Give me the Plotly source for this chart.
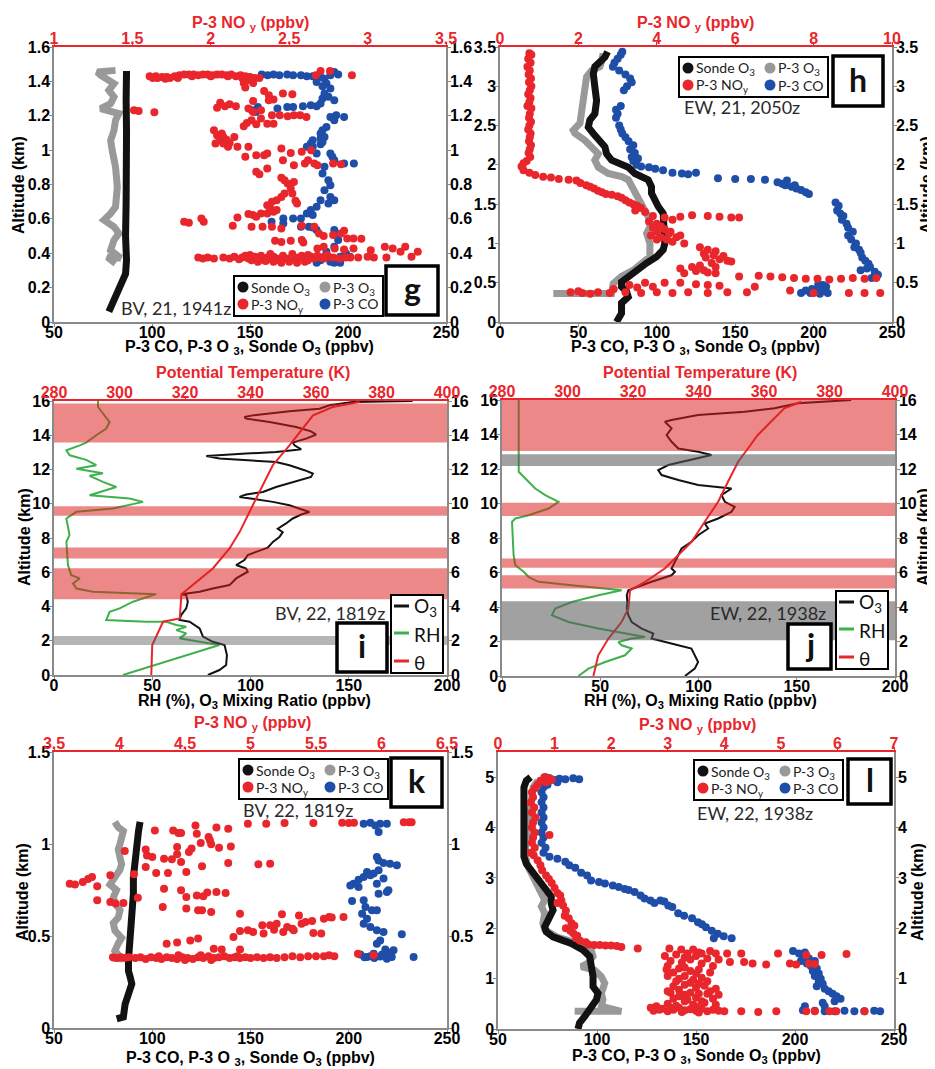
import plotly.graph_objects as go

# ======================= DATA (value, altitude km) =======================
# ---- panel g : BV, 21, 1941z ----
G_SONDE_O3 = [(78.0,0.06),(80.6,0.13),(84.0,0.20),(86.5,0.28),(87.0,0.36),(86.5,0.50),(86.8,0.70),
              (86.5,0.90),(87.0,1.10),(86.8,1.30),(87.0,1.46)]
G_P3_O3 = [(81.4,0.341),(77.2,0.378),(84.0,0.372),(78.9,0.418),(80.6,0.477),(83.1,0.515),(80.6,0.554),
           (75.5,0.593),(78.9,0.632),(81.4,0.670),(82.3,0.786),(81.4,0.902),(79.7,0.999),(78.9,1.056),
           (80.6,1.114),(81.4,1.174),(83.1,1.213),(73.8,1.242),(78.9,1.271),(80.6,1.310),(78.0,1.348),
           (80.6,1.387),(73.8,1.436),(72.1,1.455),(81.4,1.464)]
G_P3_NOY = [(1.61,1.43),(1.63,1.42),(1.66,1.42),(1.69,1.425),(1.71,1.415),(1.74,1.42),(1.77,1.43),(1.80,1.435),
            (1.83,1.44),(1.86,1.44),(1.89,1.44),(1.92,1.435),(1.95,1.44),(1.98,1.44),(2.01,1.435),(2.04,1.44),
            (2.07,1.44),(2.10,1.435),(2.13,1.44),(2.16,1.43),(2.19,1.435),(2.22,1.43),(2.25,1.425),(2.28,1.42),
            (2.31,1.42),(1.65,1.43),(1.72,1.425),(1.79,1.42),(1.88,1.43),(2.00,1.43),(2.11,1.43),(2.20,1.42),
            (2.70,1.46),(2.76,1.46),(2.90,1.435),(2.67,1.435),(2.23,1.405),(2.21,1.39),(2.27,1.39),
            (1.51,1.232),(1.54,1.228),(1.64,1.22),
            (2.06,1.275),(2.09,1.255),(2.12,1.267),(2.16,1.255),(2.04,1.247),
            (2.22,1.364),(2.27,1.286),(2.34,1.344),(2.37,1.319),(2.40,1.294),(2.37,1.29),(2.46,1.329),(2.52,1.325),
            (2.53,1.203),(2.49,1.197),(2.44,1.203),(2.57,1.203),(2.61,1.193),(2.39,1.203),(2.32,1.232),(2.24,1.242),
            (2.27,1.222),(2.21,1.139),(2.23,1.158),(2.26,1.174),(2.32,1.184),(2.36,1.154),(2.40,1.154),(2.29,1.15),
            (2.02,1.116),(2.04,1.087),(2.07,1.096),(2.08,1.077),(2.10,1.061),(2.15,1.077),(2.06,1.058),(2.03,1.038),
            (2.08,1.038),(2.12,1.042),(2.11,1.019),(2.17,1.019),(2.24,1.019),
            (2.22,0.961),(2.29,0.97),(2.34,0.97),(2.36,0.98),(2.45,1.009),(2.51,0.984),(2.58,0.99),(2.64,1.0),
            (2.62,0.941),(2.60,0.922),(2.66,0.922),(2.68,0.912),(2.78,0.922),(2.83,0.918),(2.53,0.912),(2.46,0.941),
            (2.29,0.874),(2.31,0.86),(2.36,0.893),
            (2.45,0.839),(2.47,0.825),(2.49,0.806),(2.51,0.777),(2.53,0.815),(2.52,0.748),(2.47,0.748),(2.45,0.728),
            (2.42,0.709),(2.39,0.699),(2.36,0.68),(2.38,0.66),(2.40,0.641),(2.42,0.651),(2.54,0.705),(2.55,0.69),
            (2.36,0.631),(2.32,0.631),(2.27,0.622),(2.24,0.628),(2.29,0.612),
            (1.83,0.583),(1.86,0.577),(1.94,0.602),(1.955,0.583),(2.17,0.608),(2.14,0.56),(2.26,0.554),(2.33,0.554),
            (2.39,0.554),(2.45,0.544),(2.58,0.56),(2.66,0.554),(2.69,0.515),(2.72,0.50),(2.78,0.506),(2.83,0.515),
            (2.85,0.531),(2.87,0.486),(2.91,0.486),(2.96,0.484),
            (2.41,0.473),(2.45,0.465),(2.51,0.473),(2.58,0.477),(2.59,0.463),
            (2.68,0.428),(2.72,0.438),(2.79,0.428),(2.85,0.422),(2.91,0.428),(3.02,0.418),(3.11,0.438),(3.16,0.428),
            (3.24,0.438),(3.21,0.409),(3.32,0.409),(3.28,0.38),(3.12,0.376),(3.00,0.38),(3.04,0.376),(2.94,0.376),
            (2.89,0.376),
            (1.92,0.375),(1.95,0.37),(1.98,0.375),(2.02,0.37),(2.08,0.375),(2.12,0.37),(2.15,0.38),(2.18,0.365),
            (2.20,0.375),(2.22,0.385),(2.24,0.37),(2.26,0.36),(2.28,0.38),(2.30,0.37),(2.32,0.385),(2.34,0.36),
            (2.36,0.375),(2.38,0.365),(2.40,0.38),(2.42,0.37),(2.44,0.36),(2.46,0.385),(2.48,0.37),(2.50,0.36),
            (2.52,0.38),(2.54,0.365),(2.56,0.375),(2.58,0.385),(2.60,0.37),(2.62,0.36),(2.64,0.38),(2.66,0.37),
            (2.68,0.385),(2.70,0.375),(2.72,0.37),(2.75,0.38),(2.78,0.375),(2.82,0.37),(2.86,0.375),(2.30,0.35),
            (2.40,0.35),(2.50,0.35),(2.55,0.345),(2.45,0.345),(2.35,0.355),(2.60,0.35),(2.25,0.39),(2.38,0.395),
            (2.52,0.395),(2.62,0.39),(2.74,0.39)]
G_P3_CO = [(156,1.44),(159,1.435),(162,1.44),(165,1.435),(169,1.44),(172,1.435),(176,1.435),(179,1.43),(182,1.43),
           (186,1.426),(188,1.416),(191,1.435),(193,1.455),(195,1.44),(184,1.397),(187,1.372),(189,1.387),
           (191,1.358),(188,1.329),(190,1.31),(193,1.29),(187,1.30),(186,1.271),(184,1.255),(181,1.261),
           (177,1.255),(172,1.251),(169,1.251),(164,1.242),(154,1.251),(153,1.222),(151,1.232),(194,1.203),
           (198,1.193),(191,1.193),(193,1.174),(189,1.135),(187,1.116),(186,1.096),(188,1.077),(186,1.067),
           (182,1.058),(181,1.038),(179,1.019),(182,1.019),(186,1.034),(187,1.048),(184,0.98),(191,0.98),
           (193,0.941),(198,0.922),(203,0.922),(192,0.961),(188,0.903),(187,0.864),(190,0.825),(191,0.796),
           (188,0.767),(191,0.728),(193,0.709),(190,0.69),(186,0.709),(184,0.67),(181,0.651),(179,0.631),
           (182,0.622),(176,0.602),(172,0.602),(167,0.602),(161,0.583),(167,0.573),(176,0.554),(180,0.554),
           (182,0.55),(184,0.535),(193,0.535),(194,0.515),(195,0.477),(193,0.438),(189,0.409),(188,0.38),
           (186,0.36),(184,0.345),(191,0.35),(196,0.38),(199,0.399),(201,0.38),(196,0.345),(193,0.345)]

# ---- panel h : EW, 21, 2050z ----
H_SONDE_O3 = [(74.3,0.0),(77.5,0.11),(77.5,0.24),(81.8,0.32),(80.7,0.39),(77.5,0.45),(77.5,0.51),(81.8,0.58),
              (88.1,0.66),(93.5,0.75),(99.8,0.83),(104.1,0.92),(105.1,1.0),(105.1,1.13),(105.1,1.25),(104.1,1.38),
              (100.9,1.47),(98.8,1.55),(96.6,1.64),(96.6,1.72),(94.5,1.81),(86.0,1.89),(81.8,1.97),(71.2,2.06),
              (68.0,2.14),(66.9,2.23),(62.7,2.31),(59.5,2.40),(56.3,2.48),(57.3,2.57),(60.5,2.65),(61.6,2.82),
              (60.5,2.99),(59.5,3.16),(60.5,3.25),(63.7,3.31),(66.9,3.37),(68.6,3.44)]
H_P3_O3 = [(34.0,0.364),(41.4,0.364),(52.0,0.364),(62.7,0.364),(71.2,0.364),(72.2,0.49),(77.5,0.58),(85.0,0.66),
           (91.3,0.75),(95.6,0.83),(95.6,0.92),(95.6,1.0),(93.5,1.13),(95.6,1.21),(95.6,1.30),(93.5,1.38),
           (91.3,1.47),(89.2,1.55),(86.0,1.64),(83.9,1.72),(81.8,1.81),(77.5,1.85),(69.0,1.89),(62.7,1.97),
           (60.5,2.06),(62.7,2.14),(58.4,2.23),(54.2,2.31),(47.8,2.40),(46.7,2.44),(51.0,2.53),(52.0,2.65),
           (53.1,2.82),(54.2,2.99),(55.2,3.12),(58.4,3.20),(63.7,3.25),(64.8,3.31),(65.8,3.42)]
H_P3_NOY = [(0.75,3.42),(0.80,3.40),(0.72,3.35),(0.78,3.30),(0.70,3.25),(0.76,3.20),(0.73,3.15),(0.79,3.10),
            (0.74,3.05),(0.80,3.00),(0.76,2.95),(0.72,2.90),(0.78,2.85),(0.75,2.80),(0.70,2.75),(0.80,2.72),
            (0.76,2.65),(0.74,2.60),(0.79,2.55),(0.75,2.50),(0.72,2.45),(0.78,2.40),(0.76,2.35),(0.74,2.30),
            (0.79,2.25),(0.76,2.20),(0.73,2.15),(0.77,2.10),(0.68,2.05),(0.60,2.02),(0.55,1.98),(0.60,1.93),
            (0.75,1.90),(0.90,1.87),(1.10,1.85),(1.30,1.84),(1.50,1.82),(1.75,1.81),(1.95,1.80),(2.05,1.77),
            (2.20,1.74),(2.30,1.72),(2.40,1.70),(2.50,1.67),(2.60,1.65),(2.70,1.63),(2.85,1.62),(3.00,1.60),
            (3.10,1.58),(3.20,1.55),(3.30,1.52),(3.40,1.50),(3.50,1.48),(3.60,1.45),(3.45,1.42),(3.70,1.40),
            (3.90,1.35),(4.20,1.33),(4.60,1.34),(4.90,1.36),(5.30,1.35),(5.60,1.34),(5.90,1.33),(6.10,1.33),
            (4.40,1.30),(4.00,1.25),(3.90,1.20),(4.20,1.18),(4.00,1.15),(4.30,1.12),(4.10,1.08),(4.50,1.08),
            (4.00,1.05),(4.40,1.02),(4.70,1.00),(5.10,0.95),(5.30,0.92),(5.50,0.90),(5.20,0.87),(5.45,0.85),
            (5.60,0.80),(5.80,0.78),(5.90,0.77),(5.40,0.75),(5.10,0.72),(4.60,0.68),(4.90,0.70),(5.00,0.65),
            (5.30,0.63),(5.50,0.62),(4.70,0.62),(6.10,0.58),(6.60,0.59),(6.90,0.58),(7.20,0.57),(7.50,0.56),
            (7.80,0.55),(8.10,0.55),(8.40,0.54),(8.70,0.55),(9.00,0.56),(9.30,0.55),(9.60,0.56),(3.70,0.50),
            (4.20,0.50),(4.60,0.50),(5.00,0.48),(5.30,0.47),(5.60,0.46),(3.90,0.45),(3.50,0.44),(3.30,0.47),
            (2.90,0.42),(6.50,0.45),(1.80,0.38),(2.10,0.37),(2.50,0.38),(2.80,0.37),(3.20,0.38),(3.60,0.37),
            (4.00,0.38),(4.40,0.37),(4.80,0.38),(5.30,0.37),(5.80,0.38),(6.30,0.38),(7.40,0.40),(8.90,0.37),
            (9.30,0.37),(9.70,0.37),(8.00,0.37),(2.00,0.39),(2.30,0.36),
            (3.80,1.28),(4.10,1.22),(4.35,1.15),(3.85,1.10),(4.25,1.05),(4.60,1.10),(5.25,0.82),(5.50,0.70),
            (5.20,0.66),(5.70,0.84)]
H_P3_CO = [(78,3.44),(77,3.40),(75,3.35),(73,3.30),(72,3.25),(76,3.20),(80,3.15),(83,3.10),(84,3.05),(81,3.00),
           (79,2.95),(77,2.75),(74,2.70),(75,2.65),(74,2.60),(76,2.50),(77,2.45),(78,2.40),(80,2.35),(82,2.30),
           (85,2.25),(83,2.20),(86,2.15),(84,2.10),(88,2.08),(85,2.05),(87,2.00),(90,1.98),(95,1.97),(99,1.95),
           (104,1.93),(110,1.90),(116,1.89),(120,1.88),(125,1.90),(139,1.83),(150,1.82),(160,1.82),(169,1.81),
           (177,1.78),(180,1.76),(183,1.80),(186,1.72),(189,1.70),(192,1.68),(195,1.65),(197,1.63),(182,1.74),
           (188,1.74),(214,1.52),(216,1.48),(215,1.42),(217,1.38),(219,1.35),(218,1.30),(221,1.25),(222,1.20),
           (225,1.15),(222,1.10),(224,1.05),(227,1.00),(226,0.95),(229,0.92),(230,0.88),(231,0.82),(233,0.78),
           (235,0.74),(236,0.70),(234,0.68),(239,0.64),(241,0.60),(240,0.58),(237,0.56),(230,0.66),(203,0.48),
           (206,0.47),(208,0.45),(199,0.42),(195,0.40),(201,0.40),(205,0.39),(209,0.37),(192,0.37),(198,0.37),
           (204,0.36)]

# ---- panel i : BV, 22, 1819z  (O3 / RH on bottom axis, theta on top axis) ----
I_O3 = [(78.3,0.0),(84.2,0.29),(87.6,0.58),(88.0,1.17),(86.8,1.75),(80.8,1.94),(75.8,2.24),(74.1,2.72),(69.0,3.11),
        (63.9,3.21),(64.7,3.50),(67.3,3.89),(68.1,4.28),(67.3,4.67),(64.7,4.72),(74.1,4.86),(80.8,5.05),(89.3,5.25),
        (92.7,5.64),(98.6,6.03),(97.8,6.22),(92.7,6.42),(96.9,6.71),(98.6,7.0),(102.9,7.19),(108.8,7.43),
        (111.4,7.77),(114.7,8.05),(116.4,8.34),(113.9,8.54),(118.1,8.85),(121.5,9.14),(125.8,9.37),(130.0,9.52),
        (125.8,9.68),(119.8,9.91),(111.4,10.11),(101.2,10.26),(94.4,10.40),(97.8,10.54),(106.3,10.69),
        (113.0,10.98),(121.5,11.28),(130.8,11.57),(131.7,11.76),(127.5,11.96),(119.8,12.25),(113.0,12.44),
        (84.2,12.64),(77.5,12.79),(97.8,12.93),(113.0,13.02),(121.5,13.12),(125.8,13.18),(122.4,13.41),
        (121.5,13.57),(128.3,13.80),(133.4,14.04),(130.8,14.23),(123.2,14.48),(109.7,14.77),(97.8,14.97),
        (96.9,15.07),(101.2,15.16),(119.8,15.40),(135.1,15.55),(140.2,15.75),(152.0,15.94),(182.5,16.0)]
I_RH = [(35.1,0.0),(84.2,1.75),(74.1,1.94),(63.9,2.14),(67.3,2.43),(62.2,2.62),(67.3,2.82),(62.2,2.92),(57.1,3.11),
        (46.9,3.11),(26.6,3.21),(28.3,3.69),(33.4,3.89),(40.2,4.28),(52.0,4.72),(19.8,4.86),(11.4,5.05),(9.7,5.35),
        (13.1,5.64),(8.8,5.83),(7.1,6.42),(6.3,7.78),(7.9,8.17),(6.3,9.14),(11.4,9.53),(21.5,9.62),(30.0,9.72),
        (45.3,10.11),(38.5,10.30),(18.1,10.50),(31.7,10.98),(24.9,11.28),(18.1,11.63),(24.9,11.78),(11.4,12.05),
        (21.5,12.25),(16.4,12.56),(8.0,12.83),(6.3,13.12),(13.1,13.41),(16.4,13.57),(21.5,14.0),(26.6,14.39),
        (28.3,14.77),(24.9,15.26),(22.4,15.65),(22.4,16.0)]
I_THETA = [(309.7,0.0),(310.0,1.75),(313.3,3.11),(318.4,3.30),(318.9,4.72),(322.4,5.25),(328.5,6.22),(333.6,7.39),
           (336.7,8.36),(340.7,9.91),(343.8,11.08),(346.8,12.25),(351.9,13.41),(355.0,14.19),(359.1,15.16),
           (365.1,15.65),(373.3,15.94)]
I_RED_BANDS = [(13.57, 15.85), (9.30, 9.86), (6.81, 7.45), (4.42, 6.23)]
I_GREY_BANDS = [(1.75, 2.28)]

# ---- panel j : EW, 22, 1938z ----
J_O3 = [(93.1,0.0),(98.1,0.43),(99.8,0.81),(98.1,1.20),(96.4,1.59),(89.7,1.78),(82.9,1.97),(76.1,2.17),(77.0,2.46),
        (71.1,2.75),(66.0,3.13),(64.3,3.52),(63.5,3.91),(63.8,4.29),(63.5,4.68),(64.3,4.97),(76.1,5.46),(86.3,5.84),
        (88.0,6.04),(86.3,6.23),(88.0,6.62),(89.7,7.0),(91.4,7.39),(96.4,7.78),(99.8,8.16),(104.9,8.55),
        (103.2,8.84),(110.0,9.13),(116.8,9.52),(118.4,9.81),(113.4,10.10),(111.7,10.49),(116.8,10.87),
        (99.8,11.07),(89.7,11.36),(81.2,11.65),(79.5,11.94),(84.6,12.23),(98.1,12.61),(106.6,12.81),(99.8,13.0),
        (89.7,13.19),(86.3,13.58),(83.8,13.97),(86.3,14.36),(82.9,14.74),(86.3,14.84),(99.8,15.13),(123.5,15.32),
        (138.7,15.52),(150.6,15.81),(177.7,16.0)]
J_RH = [(38.9,0.0),(44.0,0.43),(52.5,0.81),(62.6,1.20),(66.0,1.59),(60.9,1.78),(59.2,1.97),(66.0,2.17),(72.8,2.26),
        (62.6,2.46),(49.1,2.75),(33.8,3.13),(25.4,3.52),(27.1,3.91),(35.5,4.29),(49.1,4.68),(60.9,4.97),(35.5,5.26),
        (18.6,5.46),(13.5,5.75),(11.0,6.04),(6.8,6.42),(5.9,7.0),(5.1,8.94),(6.8,9.13),(13.5,9.32),(23.7,9.71),
        (28.8,10.10),(22.0,10.49),(16.9,10.87),(13.5,11.26),(10.2,11.65),(8.5,11.84),(8.5,12.81),(8.5,16.0)]
J_THETA = [(307.9,0.0),(309.4,1.20),(312.5,2.17),(316.5,3.13),(318.6,3.91),(319.1,4.97),(323.7,5.46),(329.7,6.23),
           (333.8,7.0),(337.9,7.78),(341.9,8.94),(346.0,10.10),(349.0,11.26),(352.1,12.42),(355.1,13.19),
           (358.1,13.97),(362.1,14.74),(366.2,15.52),(371.4,15.90)]
J_RED_BANDS = [(13.04, 16.0), (9.27, 10.04), (6.27, 6.81), (5.07, 5.84)]
J_GREY_BANDS = [(12.17, 12.86), (2.07, 4.33)]

# ---- panel k : BV, 22, 1819z ----
K_SONDE_O3 = [(81.9,0.05),(85.3,0.06),(86.2,0.13),(87.9,0.19),(89.6,0.24),(88.7,0.28),(87.9,0.31),(87.9,0.37),
              (88.7,0.46),(89.6,0.55),(89.6,0.64),(90.4,0.73),(90.4,0.82),(91.3,0.91),(91.3,0.97),(92.1,1.0),
              (93.0,1.07),(93.8,1.12)]
K_P3_O3 = [(79.5,0.38),(85.0,0.375),(83.6,0.386),(81.0,0.42),(82.7,0.46),(84.4,0.49),(81.0,0.53),(80.2,0.57),
           (82.7,0.60),(83.6,0.64),(81.0,0.68),(80.2,0.71),(81.8,0.75),(78.5,0.78),(81.0,0.82),(83.6,0.86),
           (84.4,0.89),(83.6,0.93),(82.7,0.97),(83.6,1.00),(84.4,1.04),(85.3,1.07),(82.7,1.09),(81.0,1.12)]
K_P3_NOY = [(3.62,0.784),(3.66,0.78),(3.72,0.793),(3.76,0.81),(3.79,0.82),(3.83,0.77),(3.83,0.694),(3.93,0.83),
            (3.93,0.685),(3.97,0.676),(4.03,0.68),(4.04,0.962),(4.11,0.835),(4.14,0.708),(4.20,0.97),(4.21,0.938),
            (4.25,0.929),(4.20,0.875),(4.28,0.842),(4.33,0.658),(4.34,0.757),(4.34,0.92),(4.37,0.842),(4.40,0.917),
            (4.41,1.074),(4.45,1.06),(4.47,1.06),(4.44,0.944),(4.44,0.984),(4.47,0.902),(4.47,0.748),(4.51,0.848),
            (4.51,0.712),(4.51,0.649),(4.53,0.957),(4.55,0.975),(4.58,1.101),(4.59,1.056),(4.62,1.005),(4.63,0.879),
            (4.64,0.716),(4.59,0.72),(4.60,0.64),(4.67,0.737),(4.68,1.038),(4.69,1.02),(4.70,0.998),(4.74,1.089),
            (4.76,0.98),(4.74,0.739),(4.81,0.734),(4.83,1.083),(4.83,0.897),(4.85,0.987),(4.63,0.64),(4.70,0.63),
            (4.92,0.621),(4.87,0.495),(4.92,0.527),(4.98,0.531),(5.02,0.522),(5.09,0.558),(5.10,0.513),(5.15,0.558),
            (5.18,0.534),(5.20,0.567),(5.24,0.618),(5.25,0.522),(5.28,0.549),(5.32,0.54),(5.33,0.531),(5.37,0.612),
            (5.39,0.567),(5.42,0.576),(5.48,0.516),(5.47,0.582),(5.54,0.513),(5.56,0.594),(5.60,0.603),(5.62,0.60),
            (5.71,0.603),(5.06,0.89),(5.15,0.893),(4.98,1.11),(5.12,1.11),(5.26,1.114),(5.48,1.114),(5.70,1.116),
            (5.75,1.114),(5.79,1.116),(6.17,1.118),(6.21,1.118),(6.23,1.118),(4.27,1.074),(4.36,0.458),(4.44,0.464),
            (4.54,0.476),(4.60,0.486),(4.72,0.431),(4.78,0.426),(4.92,0.426),
            (3.95,0.385),(3.98,0.38),(4.01,0.385),(4.04,0.38),(4.07,0.385),(4.12,0.38),(4.16,0.385),(4.20,0.375),
            (4.24,0.385),(4.28,0.38),(4.32,0.375),(4.36,0.385),(4.40,0.38),(4.44,0.375),(4.48,0.385),(4.52,0.38),
            (4.56,0.375),(4.60,0.385),(4.64,0.38),(4.68,0.39),(4.72,0.38),(4.76,0.385),(4.80,0.39),(4.84,0.38),
            (4.88,0.385),(4.92,0.38),(4.96,0.385),(5.00,0.38),(5.05,0.385),(5.10,0.38),(5.15,0.385),(5.20,0.38),
            (5.26,0.385),(5.32,0.39),(5.38,0.385),(5.44,0.39),(5.50,0.39),(5.56,0.39),(5.60,0.395),(5.64,0.39),
            (5.82,0.404),(5.94,0.395),(4.30,0.39),(4.50,0.37),(4.70,0.37),(4.90,0.39),(4.45,0.395),(4.62,0.395)]
K_P3_CO = [(207.6,1.11),(211,1.116),(213.5,1.10),(215.2,1.065),(216,1.11),(219.4,1.11),(214.3,0.93),(215.2,0.911),
           (217.7,0.897),(221,0.893),(224.5,0.884),(211,0.83),(207.6,0.82),(205,0.806),(202.5,0.784),(200.8,0.775),
           (205,0.766),(209.3,0.848),(212.7,0.839),(215.2,0.857),(217.7,0.812),(214.3,0.784),(219.4,0.739),
           (215.2,0.73),(220.2,0.748),(207.6,0.694),(201.7,0.69),(208.5,0.658),(211.8,0.64),(214.3,0.64),
           (206.8,0.621),(209.3,0.594),(207.6,0.567),(211,0.549),(214.3,0.531),(217.7,0.522),(227,0.509),(216,0.476),
           (214.3,0.458),(218.6,0.426),(222.8,0.422),(212.7,0.404),(205.9,0.399),(209.3,0.386),(216,0.389),
           (219.4,0.377),(221.9,0.386),(233,0.386),(213,0.38),(211,0.39),(208,0.385),(217,0.40),(220,0.41)]

# ---- panel l : EW, 22, 1938z ----
L_SONDE_O3 = [(90.4,0.0),(91.2,0.12),(93.8,0.25),(97.1,0.45),(99.7,0.58),(100.5,0.71),(98.0,0.84),(98.0,1.04),
              (97.1,1.24),(96.3,1.44),(92.9,1.57),(87.0,1.70),(82.0,1.77),(77.8,1.83),(74.4,1.93),(73.6,2.03),
              (75.3,2.16),(77.8,2.36),(76.9,2.49),(76.9,2.63),(74.4,2.76),(71.9,2.89),(69.4,3.02),(66.8,3.15),
              (64.3,3.28),(63.1,3.42),(63.1,3.55),(63.5,3.68),(63.5,3.81),(63.1,4.01),(63.1,4.21),(63.5,4.41),
              (63.8,4.60),(63.1,4.80),(64.3,4.93),(66.5,5.0)]
L_P3_O3 = [(88.7,0.35),(100.5,0.35),(112.3,0.35),(102.2,0.45),(103.0,0.58),(102.2,0.71),(103.9,0.91),(102.2,1.04),
           (98.8,1.17),(92.1,1.24),(95.5,1.31),(98.0,1.44),(97.1,1.57),(90.4,1.70),(83.7,1.77),(79.5,1.83),
           (73.6,1.97),(72.7,2.10),(73.6,2.30),(71.9,2.43),(73.6,2.56),(71.0,2.76),(68.5,2.95),(67.7,3.08),
           (65.2,3.22),(64.3,3.35),(63.5,3.48),(64.3,3.68),(65.2,3.94),(66.0,4.34),(66.8,4.60),(67.7,4.80),
           (70.2,4.93)]
L_P3_NOY = [(0.82,5.0),(0.90,4.98),(0.95,4.95),(0.75,4.93),(0.85,4.90),(0.70,4.85),(0.65,4.78),(0.60,4.70),
            (0.62,4.60),(0.58,4.50),(0.64,4.40),(0.60,4.30),(0.66,4.20),(0.62,4.10),(0.60,4.00),(0.65,3.90),
            (0.91,3.85),(0.62,3.80),(0.60,3.70),(0.65,3.60),(0.58,3.50),(0.63,3.45),(0.70,3.35),(0.75,3.25),
            (0.78,3.15),(0.85,3.05),(0.90,2.98),(0.95,2.90),(1.00,2.80),(1.05,2.70),(1.10,2.65),(1.12,2.55),
            (1.05,2.50),(1.15,2.45),(1.20,2.35),(1.18,2.25),(1.25,2.20),(1.30,2.10),(1.35,2.05),(1.20,2.00),
            (1.28,1.95),(1.33,1.90),(1.40,1.85),(1.38,1.80),(1.45,1.75),(1.55,1.72),(1.60,1.68),(1.70,1.67),
            (1.80,1.67),(1.90,1.66),(2.00,1.66),(2.10,1.65),(2.18,1.63),(2.47,1.60),(3.03,1.60),(3.24,1.58),
            (3.45,1.58),(3.60,1.50),(3.75,1.55),(3.85,1.50),(4.05,1.50),(4.30,1.50),(4.95,1.50),(3.50,1.45),
            (3.30,1.42),(3.70,1.40),(3.40,1.38),(3.90,1.38),(4.10,1.33),(4.35,1.33),(4.50,1.30),(4.74,1.28),
            (5.16,1.30),(5.27,1.28),(5.45,1.47),(5.72,1.47),(6.16,1.49),(5.50,1.30),(5.60,1.29),(3.00,1.25),
            (3.20,1.20),(3.40,1.15),(3.10,1.12),(3.50,1.10),(3.30,1.05),(3.60,1.02),(3.20,1.00),(3.45,0.98),
            (3.70,0.95),(3.55,0.90),(3.30,0.88),(3.10,0.85),(3.50,0.82),(3.20,0.78),(3.00,0.75),(3.40,0.72),
            (3.70,0.70),(3.90,0.68),(3.20,0.65),(3.50,0.62),(3.80,0.60),(3.60,0.55),(3.30,0.55),(3.00,0.50),
            (2.80,0.45),(2.70,0.42),(2.90,0.40),(3.10,0.38),(3.30,0.37),(3.50,0.36),(3.70,0.35),(3.00,0.35),
            (3.20,0.42),(3.50,0.44),(3.90,0.36),(4.00,0.35),(4.30,0.35),(4.60,0.34),(4.92,0.35),(5.45,0.35),
            (5.60,0.35),(5.86,0.35),(5.98,0.35),(6.48,0.35),
            (2.95,1.45),(3.15,1.48),(3.35,1.50),(3.55,1.52),(3.05,1.35),(3.25,1.32),(3.60,1.30),(3.80,1.25),
            (2.98,1.18),(3.30,1.22),(3.55,1.18),(3.75,1.12),(3.00,1.05),(3.15,0.95),(3.40,0.92),(3.65,0.86),
            (3.85,0.80),(3.05,0.72),(3.30,0.68),(3.55,0.70),(3.75,0.75),(3.10,0.60),(3.35,0.58),(3.65,0.52),
            (3.85,0.48),(3.45,0.48),(3.15,0.46),(2.85,0.38),(3.05,0.42),(3.40,0.39),(3.60,0.40),(3.80,0.38),
            (2.75,0.36),(3.25,0.34),(3.55,0.33)]
L_P3_CO = [(74,5.0),(76,4.98),(78,4.95),(81,4.97),(84,4.96),(88,4.98),(91,4.96),(80,4.90),(75,4.85),(73,4.80),
           (72,4.70),(73,4.60),(72,4.50),(73,4.40),(72,4.30),(73,4.20),(72,4.10),(73,4.00),(72,3.90),(73,3.80),
           (72,3.70),(74,3.60),(73,3.50),(76,3.42),(80,3.38),(84,3.32),(86,3.25),(89,3.20),(92,3.10),(95,3.05),
           (97,2.95),(101,2.92),(104,2.89),(108,2.85),(111,2.82),(114,2.78),(116,2.76),(119,2.72),(122,2.65),
           (124,2.59),(127,2.55),(129,2.50),(132,2.55),(134,2.53),(136,2.45),(138,2.42),(141,2.30),(144,2.25),
           (148,2.20),(151,2.12),(153,2.08),(155,2.02),(158,1.95),(161,1.89),(164,1.84),(168,1.80),(159,1.80),
           (199,1.55),(202,1.50),(205,1.52),(204,1.45),(207,1.40),(203,1.35),(206,1.30),(210,1.35),(208,1.25),
           (211,1.20),(209,1.15),(212,1.10),(210,1.05),(213,1.00),(212,0.95),(214,0.90),(211,0.85),(215,0.80),
           (217,0.75),(219,0.70),(221,0.65),(223,0.60),(220,0.55),(214,0.52),(205,0.45),(215,0.45),(204,0.37),
           (210,0.36),(215,0.35),(220,0.35),(225,0.36),(230,0.35),(235,0.35),(240,0.36),(243,0.35)]

# ---- axis tick values / labels ----
CHEM_TICKS_50 = [50, 100, 150, 200, 250]
CHEM_TICKS_0 = [0, 50, 100, 150, 200, 250]
RH_TICKS = [0, 50, 100, 150, 200]
THETA_TICKS = [280, 300, 320, 340, 360, 380, 400]
G_NOY_TICKS = [1, 1.5, 2, 2.5, 3, 3.5]
H_NOY_TICKS = [0, 2, 4, 6, 8, 10]
K_NOY_TICKS = [3.5, 4, 4.5, 5, 5.5, 6, 6.5]
L_NOY_TICKS = [0, 1, 2, 3, 4, 5, 6, 7]
G_ALT_TICKS = [0, 0.2, 0.4, 0.6, 0.8, 1, 1.2, 1.4, 1.6]
H_ALT_TICKS = [0, 0.5, 1, 1.5, 2, 2.5, 3, 3.5]
IJ_ALT_TICKS = [0, 2, 4, 6, 8, 10, 12, 14, 16]
K_ALT_TICKS = [0, 0.5, 1, 1.5]
L_ALT_TICKS = [0, 1, 2, 3, 4, 5]
CASE_LABELS = ['BV, 21, 1941z', 'EW, 21, 2050z', 'BV, 22, 1819z', 'EW, 22, 1938z', 'BV, 22, 1819z', 'EW, 22, 1938z']
PANEL_LETTERS = ['g', 'h', 'i', 'j', 'k', 'l']

# ======================= STYLE / LAYOUT =======================
W, H = 935, 1069          # target picture
OFF = 8                   # page body margin of the html page
FW, FH = W - OFF, H - OFF  # figure size so that the page fits the window
RED = '#e8262c'
BLUE = '#1f4ea8'
GREY = '#999999'
BLACK = '#121212'
GREEN = '#3db14c'
AXC = '#8a8a8a'
AXFONT = 'Liberation Sans, Arial, sans-serif'
TXTFONT = 'Lato, Carlito, DejaVu Sans, sans-serif'


def fx(p):
    return (p - OFF) / FW


def fy(p):
    return 1 - (p - OFF) / FH


def unzip(pts):
    return [p[0] for p in pts], [p[1] for p in pts]


def btext(vals):
    return [f'<b>{v:g}</b>' for v in vals]


fig = go.Figure()
layout_axes = {}
shapes = []
annotations = []

PANELS = [
    dict(box=(54, 47, 446, 322), xr=[50, 250], xt=CHEM_TICKS_50, tr=[1, 3.5], tt=G_NOY_TICKS,
         yr=[0, 1.6], yt=G_ALT_TICKS),
    dict(box=(500, 47, 892, 322), xr=[0, 250], xt=CHEM_TICKS_0, tr=[0, 10], tt=H_NOY_TICKS,
         yr=[0, 3.5], yt=H_ALT_TICKS),
    dict(box=(54, 401, 447, 675), xr=[0, 200], xt=RH_TICKS, tr=[280, 400], tt=THETA_TICKS,
         yr=[0, 16], yt=IJ_ALT_TICKS),
    dict(box=(502, 400, 895, 676), xr=[0, 200], xt=RH_TICKS, tr=[280, 400], tt=THETA_TICKS,
         yr=[0, 16], yt=IJ_ALT_TICKS),
    dict(box=(54, 752, 447, 1028), xr=[50, 250], xt=CHEM_TICKS_50, tr=[3.5, 6.5], tt=K_NOY_TICKS,
         yr=[0, 1.5], yt=K_ALT_TICKS),
    dict(box=(498, 752, 894, 1029), xr=[50, 250], xt=CHEM_TICKS_50, tr=[0, 7], tt=L_NOY_TICKS,
         yr=[0, 5.5], yt=L_ALT_TICKS),
]

TICKFONT = dict(family=AXFONT, size=16, color='black')
REDTICKFONT = dict(family=AXFONT, size=16, color=RED)
common = dict(showgrid=False, zeroline=False, showline=True, linewidth=1.5, ticks='outside', ticklen=3,
              tickwidth=1, automargin=False, fixedrange=True)

refs = []
for k, p in enumerate(PANELS):
    l, t, r, b = p['box']
    nb, nt = 2 * k + 1, 2 * k + 2
    xb = 'x' if nb == 1 else f'x{nb}'
    xt = f'x{nt}'
    yl = 'y' if nb == 1 else f'y{nb}'
    yr = f'y{nt}'
    kx = 'xaxis' if nb == 1 else f'xaxis{nb}'
    ky = 'yaxis' if nb == 1 else f'yaxis{nb}'
    layout_axes[kx] = dict(common, domain=[fx(l), fx(r)], anchor=yl, range=p['xr'], tickvals=p['xt'],
                           ticktext=btext(p['xt']), side='bottom', linecolor=AXC, tickcolor=AXC,
                           tickfont=TICKFONT, ticklabelstandoff=-8)
    layout_axes[f'xaxis{nt}'] = dict(common, overlaying=xb, anchor=yl, side='top', range=p['tr'],
                                     tickvals=p['tt'], ticktext=btext(p['tt']), linecolor=RED, tickcolor=RED,
                                     tickfont=REDTICKFONT, ticklabelstandoff=-8)
    layout_axes[ky] = dict(common, domain=[fy(b), fy(t)], anchor=xb, range=p['yr'], tickvals=p['yt'],
                           ticktext=btext(p['yt']), linecolor=AXC, tickcolor=AXC, tickfont=TICKFONT,
                           ticklabelstandoff=-4)
    layout_axes[f'yaxis{nt}'] = dict(common, overlaying=yl, anchor=xb, side='right', range=p['yr'],
                                     tickvals=p['yt'], ticktext=btext(p['yt']), linecolor=AXC, tickcolor=AXC,
                                     tickfont=TICKFONT, ticklabelstandoff=-4)
    # invisible trace so the right-hand altitude axis is drawn
    fig.add_trace(go.Scatter(x=[None], y=[None], xaxis=xb, yaxis=yr, showlegend=False, hoverinfo='skip'))
    refs.append((xb, xt, yl))


def add_points(pts, color, axes, size=8):
    xs, ys = unzip(pts)
    fig.add_trace(go.Scatter(x=xs, y=ys, xaxis=axes[0], yaxis=axes[1], mode='markers',
                             marker=dict(size=size, color=color, line=dict(width=0)), showlegend=False))


def add_line(pts, color, axes, width):
    xs, ys = unzip(pts)
    fig.add_trace(go.Scatter(x=xs, y=ys, xaxis=axes[0], yaxis=axes[1], mode='lines',
                             line=dict(color=color, width=width), showlegend=False))


CHEM = [(G_SONDE_O3, G_P3_O3, G_P3_NOY, G_P3_CO, 0),
        (H_SONDE_O3, H_P3_O3, H_P3_NOY, H_P3_CO, 1),
        (K_SONDE_O3, K_P3_O3, K_P3_NOY, K_P3_CO, 4),
        (L_SONDE_O3, L_P3_O3, L_P3_NOY, L_P3_CO, 5)]
for sonde, p3o3, noy, co, k in CHEM:
    xb, xt, yl = refs[k]
    add_points(co, BLUE, (xb, yl))
    add_points(noy, RED, (xt, yl))
    add_line(p3o3, GREY, (xb, yl), 7)
    add_line(sonde, BLACK, (xb, yl), 7)

PROFILES = [(I_O3, I_RH, I_THETA, I_RED_BANDS, I_GREY_BANDS, 2, 'rgba(90,90,90,0.45)'),
            (J_O3, J_RH, J_THETA, J_RED_BANDS, J_GREY_BANDS, 3, 'rgba(90,90,90,0.57)')]
for o3, rh, th, rb, gb, k, gcol in PROFILES:
    xb, xt, yl = refs[k]
    add_line(rh, GREEN, (xb, yl), 2)
    add_line(th, RED, (xt, yl), 2)
    add_line(o3, BLACK, (xb, yl), 2)
    for y0, y1 in rb:
        shapes.append(dict(type='rect', xref=f'{xb} domain', x0=0, x1=1, yref=yl, y0=y0, y1=y1,
                           fillcolor='rgba(220,30,30,0.53)', line=dict(width=0), layer='above'))
    for y0, y1 in gb:
        shapes.append(dict(type='rect', xref=f'{xb} domain', x0=0, x1=1, yref=yl, y0=y0, y1=y1,
                           fillcolor=gcol, line=dict(width=0), layer='above'))


# ---------- helpers for boxes / text ----------
def rect(x0, y0, x1, y1, lw):
    shapes.append(dict(type='rect', xref='paper', yref='paper', x0=fx(x0), x1=fx(x1), y0=fy(y1), y1=fy(y0),
                       line=dict(color='black', width=lw), fillcolor='white', layer='above'))


def dot(cx, cy, r, color):
    shapes.append(dict(type='circle', xref='paper', yref='paper', x0=fx(cx - r), x1=fx(cx + r),
                       y0=fy(cy + r), y1=fy(cy - r), fillcolor=color, line=dict(width=0), layer='above'))


def seg(x0, x1, y, color):
    shapes.append(dict(type='line', xref='paper', yref='paper', x0=fx(x0), x1=fx(x1), y0=fy(y), y1=fy(y),
                       line=dict(color=color, width=3), layer='above'))


def text(s, x, y, size, color='black', family=AXFONT, angle=0, xanchor='center', yanchor='middle'):
    annotations.append(dict(text=s, x=fx(x), y=fy(y), xref='paper', yref='paper', showarrow=False,
                            font=dict(family=family, size=size, color=color), textangle=angle,
                            xanchor=xanchor, yanchor=yanchor))


def chem_legend(L, T):
    rect(L, T, L + 149, T + 40, 2)
    dot(L + 9, T + 11, 5.5, BLACK)
    dot(L + 91, T + 11, 5.5, GREY)
    dot(L + 9, T + 28, 5.5, RED)
    dot(L + 91, T + 28, 5.5, BLUE)
    text('Sonde O<sub>3</sub>', L + 15, T + 12, 14, '#222', TXTFONT, xanchor='left')
    text('P-3 O<sub>3</sub>', L + 97, T + 12, 14, '#222', TXTFONT, xanchor='left')
    text('P-3 NO<sub>y</sub>', L + 15, T + 29, 14, '#222', TXTFONT, xanchor='left')
    text('P-3 CO', L + 97, T + 28, 14, '#222', TXTFONT, xanchor='left')


def prof_legend(L, T, rows):
    rect(L, T, L + 52, T + 78, 2)
    for (lbl, col), dy in zip(rows, (11, 38, 66)):
        seg(L + 3, L + 18, T + dy, col)
        text(lbl, L + 21, T + dy + 1, 19, '#111', TXTFONT, xanchor='left')


def letter_box(x0, y0, x1, y1, s):
    rect(x0, y0, x1, y1, 3.5)
    text(f'<b>{s}</b>', (x0 + x1) / 2, (y0 + y1) / 2 - 2, 32, '#111', TXTFONT)


# legends
chem_legend(234, 276)
chem_legend(679, 57)
chem_legend(239, 759)
chem_legend(694, 760)
PROF_ROWS = [('O<sub>3</sub>', BLACK), ('RH', GREEN), ('θ', RED)]
prof_legend(391, 595, PROF_ROWS)
prof_legend(836, 591, PROF_ROWS)

# letter boxes
LETTER_BOXES = [(386, 266, 438, 315), (833, 56, 883, 106), (337, 623, 387, 672),
                (788, 624, 831, 669), (391, 758, 442, 807), (848, 759, 891, 804)]
for bx, s in zip(LETTER_BOXES, PANEL_LETTERS):
    letter_box(*bx, s)

# case labels
CASE_POS = [(176, 308), (742, 107), (330, 613), (768, 613), (298, 810), (755, 813)]
for (cx, cy), s in zip(CASE_POS, CASE_LABELS):
    text(s, cx, cy, 18, '#2a2a2a', TXTFONT)

# axis titles
CHEM_X = '<b>P-3 CO, P-3 O <sub>3</sub>, Sonde O<sub>3</sub> (ppbv)</b>'
RH_X = '<b>RH (%), O<sub>3</sub> Mixing Ratio (ppbv)</b>'
NOY_T = '<b>P-3 NO <sub>y</sub> (ppbv)</b>'
TH_T = '<b>Potential Temperature (K)</b>'
ALT = '<b>Altitude (km)</b>'
for s, x, y in [(CHEM_X, 249, 348), (CHEM_X, 695, 348), (RH_X, 254, 701), (RH_X, 700, 701),
                (CHEM_X, 250, 1058), (CHEM_X, 696, 1056)]:
    text(s, x, y, 16)
for s, x, y in [(NOY_T, 250, 23), (NOY_T, 695, 23), (TH_T, 253, 372), (TH_T, 700, 372),
                (NOY_T, 252, 723), (NOY_T, 697, 725)]:
    text(s, x, y, 16, RED)
for x, y in [(18, 185), (926, 185), (24, 537), (923, 537), (22, 892), (917, 892)]:
    text(ALT, x, y, 16, angle=-90)

fig.update_layout(width=FW, height=FH, margin=dict(l=0, r=0, t=0, b=0), showlegend=False,
                  plot_bgcolor='white', paper_bgcolor='white', shapes=shapes, annotations=annotations,
                  **layout_axes)

fig.write_html("out.html")
